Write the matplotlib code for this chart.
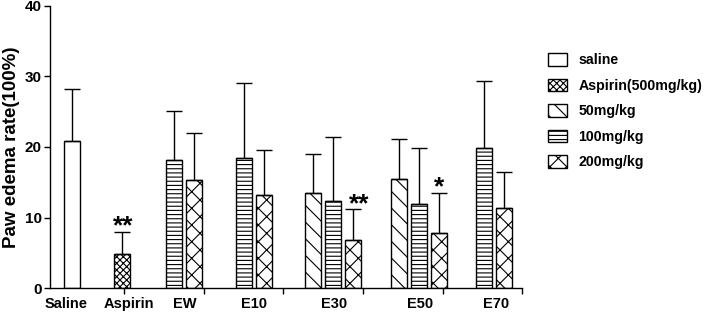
import numpy as np
import matplotlib.pyplot as plt
from matplotlib.ticker import FixedLocator


groups = ["Saline", "Aspirin", "EW", "E10", "E30", "E50", "E70"]

saline_mean = [20.8]
saline_err = [7.4]

aspirin_mean = [4.8]
aspirin_err = [3.2]

dose50_groups = ["E30", "E50"]
dose50_mean = [13.5, 15.5]
dose50_err = [5.5, 5.7]

dose100_groups = ["EW", "E10", "E30", "E50", "E70"]
dose100_mean = [18.1, 18.4, 12.3, 11.9, 19.9]
dose100_err = [7.0, 10.6, 9.1, 8.0, 9.5]

dose200_groups = ["EW", "E10", "E30", "E50", "E70"]
dose200_mean = [15.3, 13.2, 6.8, 7.8, 11.3]
dose200_err = [6.7, 6.4, 4.4, 5.7, 5.2]

stars = [("Aspirin", "**", 8.0), ("E30", "**", 11.2), ("E50", "*", 13.5)]

legend_labels = ["saline", "Aspirin(500mg/kg)", "50mg/kg", "100mg/kg", "200mg/kg"]

# layout (x axis runs in pixel-like units, 50..522)
group_center = {"Saline": 72, "Aspirin": 122, "EW": 184, "E10": 254,
                "E30": 333, "E50": 419, "E70": 494}
label_pos = [66, 129, 185, 254, 334, 420, 496]
slot_step = 20
bar_width = 16
star_dx = {"Aspirin": 1, "E30": 6, "E50": 0}


def bar_positions(series_groups, slot):
    xs = []
    for g in series_groups:
        n = 3 if g in ("E30", "E50") else 2
        idx = slot if n == 3 else slot - 1
        xs.append(group_center[g] + (idx - (n - 1) / 2) * slot_step)
    return xs


plt.rcParams.update({
    "font.family": "Liberation Sans",
    "font.weight": "bold",
    "hatch.linewidth": 0.8,
    "hatch.color": "black",
})

fig = plt.figure(figsize=(7.07, 3.12), dpi=100)
ax = fig.add_axes([50 / 707, 1 - 288.3 / 312, (522 - 50) / 707, (288.3 - 5.7) / 312])

common = dict(width=bar_width, edgecolor="black", linewidth=1.0, facecolor="white",
              error_kw=dict(ecolor="black", elinewidth=1.0, capsize=5.5, capthick=1.0))

h_saline = ax.bar([group_center["Saline"]], saline_mean,
                  yerr=[[0], saline_err], **common)
h_aspirin = ax.bar([group_center["Aspirin"]], aspirin_mean,
                   yerr=[[0], aspirin_err], hatch="xxxxx", **common)
h50 = ax.bar(bar_positions(dose50_groups, 0), dose50_mean,
             yerr=[[0] * len(dose50_err), dose50_err], hatch="\\\\", **common)
h100 = ax.bar(bar_positions(dose100_groups, 1), dose100_mean,
              yerr=[[0] * len(dose100_err), dose100_err], hatch="----", **common)
h200 = ax.bar(bar_positions(dose200_groups, 2), dose200_mean,
              yerr=[[0] * len(dose200_err), dose200_err], hatch="xx", **common)

for g, s, top in stars:
    if g == "Aspirin":
        x = group_center[g]
    else:
        x = bar_positions([g], 2)[0]
    ax.text(x + star_dx[g], top - 0.95, s, ha="center", va="bottom", fontsize=19,
            fontweight="bold")

ax.set_xlim(50, 522)
ax.set_ylim(0, 40)
ax.set_yticks([0, 10, 20, 30, 40])
ax.set_xticks(label_pos)
ax.set_xticklabels(groups)
ax.xaxis.set_minor_locator(FixedLocator([124, 204, 283, 363, 443, 522]))
ax.tick_params(axis="x", which="major", length=0, pad=6, labelsize=10.5)
ax.tick_params(axis="x", which="minor", length=4, width=1.0)
ax.tick_params(axis="y", length=4, width=1.0, labelsize=11, pad=2)
for lab in ax.get_xticklabels() + ax.get_yticklabels():
    lab.set_fontweight("bold")

ax.spines["top"].set_visible(False)
ax.spines["right"].set_visible(False)
ax.spines["left"].set_linewidth(1.0)
ax.spines["bottom"].set_linewidth(1.0)

ax.set_ylabel("Paw edema rate(100%)", fontsize=13.5, fontweight="bold")
ax.yaxis.set_label_coords((20 - 50) / 472, 0.5)

fig.legend(
    [h_saline, h_aspirin, h50, h100, h200],
    legend_labels,
    loc="upper left",
    bbox_to_anchor=(548 / 707, 1 - 53 / 312),
    frameon=False,
    borderpad=0,
    borderaxespad=0,
    handlelength=1.35,
    handleheight=1.0,
    handletextpad=0.8,
    labelspacing=0.8,
    prop={"weight": "bold", "size": 10.2},
)

fig.savefig("out.png", dpi=100)
